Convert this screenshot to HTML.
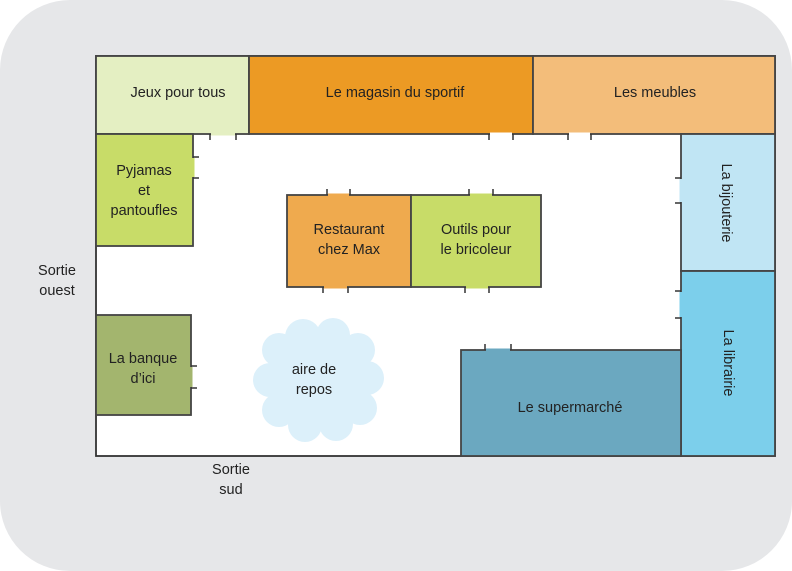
<!DOCTYPE html>
<html><head><meta charset="utf-8"><style>
html,body{margin:0;padding:0;background:#fff}
svg{display:block}
text{font-family:"Liberation Sans",sans-serif;font-size:14.5px;fill:#222;text-anchor:middle}
</style></head><body>
<svg width="792" height="571" viewBox="0 0 792 571" xmlns="http://www.w3.org/2000/svg">
<rect x="0" y="0" width="792" height="571" rx="70" ry="70" fill="#e6e7e9"/>
<rect x="96" y="56" width="679" height="400" fill="#fff" stroke="#333" stroke-width="1.8"/>
<g stroke="#444" stroke-width="1.8">
<rect x="96" y="56" width="153" height="78" fill="#e4efc2"/>
<rect x="249" y="56" width="284" height="78" fill="#ec9a24"/>
<rect x="533" y="56" width="242" height="78" fill="#f3bd7a"/>
<rect x="96" y="134" width="97" height="112" fill="#c8dc68"/>
<rect x="287" y="195" width="124" height="92" fill="#efaa4e"/>
<rect x="411" y="195" width="130" height="92" fill="#c8dc68"/>
<rect x="681" y="134" width="94" height="137" fill="#c0e5f4"/>
<rect x="681" y="271" width="94" height="185" fill="#7ccfeb"/>
<rect x="461" y="350" width="220" height="106" fill="#6ba8c0"/>
<rect x="96" y="315" width="95" height="100" fill="#a3b56e"/>
</g>
<g stroke-width="3">
<line x1="211" y1="134" x2="235" y2="134" stroke="#e4efc2"/>
<line x1="490" y1="134" x2="512" y2="134" stroke="#fff"/>
<line x1="569" y1="134" x2="590" y2="134" stroke="#fff"/>
<line x1="193" y1="158" x2="193" y2="177" stroke="#c8dc68"/>
<line x1="328" y1="195" x2="349" y2="195" stroke="#efaa4e"/>
<line x1="324" y1="287" x2="347" y2="287" stroke="#efaa4e"/>
<line x1="470" y1="195" x2="492" y2="195" stroke="#c8dc68"/>
<line x1="466" y1="287" x2="488" y2="287" stroke="#c8dc68"/>
<line x1="681" y1="179" x2="681" y2="202" stroke="#c0e5f4"/>
<line x1="681" y1="292" x2="681" y2="317" stroke="#7ccfeb"/>
<line x1="486" y1="350" x2="510" y2="350" stroke="#6ba8c0"/>
<line x1="191" y1="367" x2="191" y2="387" stroke="#a3b56e"/>
</g>
<g stroke="#333" stroke-width="1.5">
<line x1="210" y1="134" x2="210" y2="140"/><line x1="236" y1="134" x2="236" y2="140"/>
<line x1="489" y1="134" x2="489" y2="140"/><line x1="513" y1="134" x2="513" y2="140"/>
<line x1="568" y1="134" x2="568" y2="140"/><line x1="591" y1="134" x2="591" y2="140"/>
<line x1="193" y1="157" x2="199" y2="157"/><line x1="193" y1="178" x2="199" y2="178"/>
<line x1="327" y1="189" x2="327" y2="195"/><line x1="350" y1="189" x2="350" y2="195"/>
<line x1="469" y1="189" x2="469" y2="195"/><line x1="493" y1="189" x2="493" y2="195"/>
<line x1="323" y1="287" x2="323" y2="293"/><line x1="348" y1="287" x2="348" y2="293"/>
<line x1="465" y1="287" x2="465" y2="293"/><line x1="489" y1="287" x2="489" y2="293"/>
<line x1="675" y1="178" x2="681" y2="178"/><line x1="675" y1="203" x2="681" y2="203"/>
<line x1="675" y1="291" x2="681" y2="291"/><line x1="675" y1="318" x2="681" y2="318"/>
<line x1="485" y1="344" x2="485" y2="350"/><line x1="511" y1="344" x2="511" y2="350"/>
<line x1="191" y1="366" x2="197" y2="366"/><line x1="191" y1="388" x2="197" y2="388"/>
</g>
<g fill="#dcf0fa">
<circle cx="319" cy="380" r="50"/>
<circle cx="303" cy="337" r="18"/><circle cx="333" cy="335" r="17"/>
<circle cx="358" cy="350" r="17"/><circle cx="367" cy="378" r="17"/>
<circle cx="360" cy="408" r="17"/><circle cx="336" cy="424" r="17"/>
<circle cx="305" cy="425" r="17"/><circle cx="279" cy="410" r="17"/>
<circle cx="270" cy="380" r="17"/><circle cx="279" cy="350" r="17"/>
</g>
<text x="178" y="97">Jeux pour tous</text>
<text x="395" y="97">Le magasin du sportif</text>
<text x="655" y="97">Les meubles</text>
<text x="144" y="175">Pyjamas</text>
<text x="144" y="195">et</text>
<text x="144" y="215">pantoufles</text>
<text x="349" y="234">Restaurant</text>
<text x="349" y="254">chez Max</text>
<text x="476" y="234">Outils pour</text>
<text x="476" y="254">le bricoleur</text>
<text x="143" y="363">La banque</text>
<text x="143" y="383">d’ici</text>
<text x="314" y="374">aire de</text>
<text x="314" y="394">repos</text>
<text x="570" y="412">Le supermarché</text>
<text transform="translate(727,203) rotate(90)" dy="5">La bijouterie</text>
<text transform="translate(729,363) rotate(90)" dy="5">La librairie</text>
<text x="57" y="275">Sortie</text>
<text x="57" y="295">ouest</text>
<text x="231" y="474">Sortie</text>
<text x="231" y="494">sud</text>
</svg>
</body></html>
